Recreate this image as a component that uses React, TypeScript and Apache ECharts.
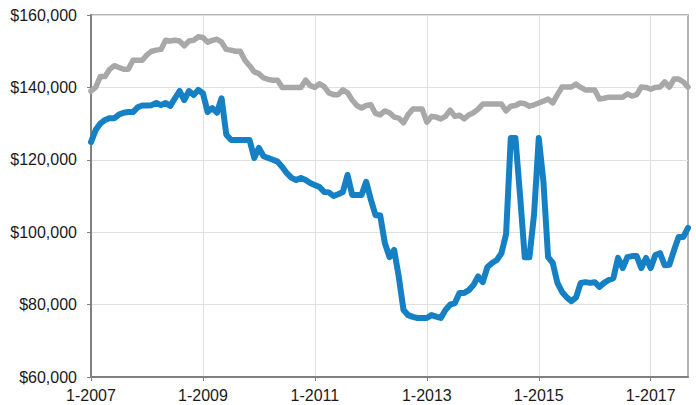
import React, { useEffect, useRef } from "react";
import * as echarts from "echarts";

const startYear = 2007;
const monthCount = 129; // Jan 2007 – Sep 2017
const categories: string[] = Array.from({ length: monthCount }, (_, i) => `${(i % 12) + 1}-${startYear + Math.floor(i / 12)}`);

const graySeries: number[] = [
  139000, 140000, 143000, 143000, 145000, 146000, 145500, 145000, 145000, 147500,
  147500, 147500, 149000, 150000, 150300, 150500, 153000, 152800, 153000, 152800,
  151500, 152800, 153000, 154000, 153800, 152500, 153000, 153300, 152500, 150500,
  150300, 150000, 150000, 147500, 146000, 144300, 143800, 142600, 142200, 142000,
  142000, 140000, 140000, 140000, 140000, 140000, 142000, 140500, 140000, 141000,
  140200, 138500, 138000, 138000, 139300, 138500, 136500, 135000, 134300, 135000,
  135200, 132800, 132400, 133500, 133000, 131800, 131500, 130200, 132500, 134000,
  134000, 134000, 130400, 132000, 131800, 131300, 132000, 133700, 132000, 132300,
  131300, 132400, 133000, 134000, 135400, 135400, 135400, 135400, 135400, 133500,
  134800, 135000, 135700, 135500, 134800, 135200, 135700, 136200, 136800, 135700,
  138000, 140100, 140100, 140100, 140900, 140000, 139300, 139300, 139300, 136800,
  137000, 137300, 137300, 137300, 137300, 138200, 137600, 138000, 140100, 140000,
  139500, 140000, 140100, 141500, 140100, 142300, 142300, 141500, 140100,
];

const blueSeries: number[] = [
  124900, 128200, 130000, 131000, 131500, 131500, 132500, 133000, 133200, 133200,
  134500, 135000, 135000, 135100, 135700, 135100, 135700, 134900, 137000, 139000,
  136500, 139000, 137900, 139300, 138400, 133200, 134300, 133000, 137000, 127000,
  125500, 125500, 125500, 125500, 125500, 120500, 123300, 121000, 120500, 120000,
  119500, 118000, 116300, 115000, 114400, 115000, 114400, 113600, 113000, 112500,
  111100, 111000, 110000, 110500, 111100, 115800, 110300, 110300, 110300, 113900,
  109000, 104700, 104700, 97000, 93100, 95100, 87600, 78500, 77100, 76600,
  76300, 76300, 76300, 77100, 76700, 76300, 78500, 80000, 80400, 83200,
  83200, 84000, 85400, 87800, 86200, 90400, 91500, 92300, 94200, 99500,
  126000, 126000, 110000, 93100, 93100, 105000, 126000, 114000, 93100, 91500,
  86000, 83500, 82000, 80900, 82000, 86000, 86200, 86000, 86200, 84900,
  86000, 86800, 87300, 92900, 90100, 93100, 93400, 93400, 90100, 92900,
  90100, 93700, 94200, 90900, 91000, 95000, 98700, 98700, 101200,
];

const yMin = 60000;
const yMax = 160000;
const yStep = 20000;

const fmtMoney = (v: number) => "$" + String(v).replace(/\B(?=(\d{3})+(?!\d))/g, ",");

export default function App() {
  const ref = useRef<HTMLDivElement>(null);
  useEffect(() => {
    if (!ref.current) return;
    const chart = echarts.init(ref.current, undefined, { renderer: "svg" });
    const labelFont = {
      fontFamily: "'Liberation Sans', Arial, Helvetica, sans-serif",
      fontSize: 16,
      color: "#1a1a1a",
    };
    chart.setOption({
      animation: false,
      backgroundColor: "#ffffff",
      grid: {
        left: 91,
        right: 8,
        top: 15,
        bottom: 28,
        show: true,
        borderColor: "#9a9a9a",
        borderWidth: 1.5,
      },
      xAxis: {
        type: "category",
        data: categories,
        boundaryGap: false,
        axisLine: { show: true, lineStyle: { color: "#808080", width: 2 } },
        axisTick: { show: true, interval: 23, length: 4, lineStyle: { color: "#808080", width: 1 } },
        axisLabel: { interval: 23, margin: 10, ...labelFont },
        splitLine: { show: true, interval: 23, lineStyle: { color: "#e0e0e0", width: 1 } },
      },
      yAxis: {
        type: "value",
        min: yMin,
        max: yMax,
        interval: yStep,
        axisLine: { show: true, lineStyle: { color: "#808080", width: 2 } },
        axisTick: { show: true, length: 4, lineStyle: { color: "#808080", width: 1 } },
        axisLabel: { margin: 14, formatter: (v: number) => fmtMoney(v), ...labelFont },
        splitLine: { show: true, lineStyle: { color: "#e0e0e0", width: 1 } },
      },
      series: [
        {
          name: "Gray",
          type: "line",
          data: graySeries,
          symbol: "none",
          lineStyle: { color: "#a8a8a8", width: 5.5, join: "round", cap: "round" },
          z: 2,
        },
        {
          name: "Blue",
          type: "line",
          data: blueSeries,
          symbol: "none",
          lineStyle: { color: "#1580c3", width: 6, join: "round", cap: "round" },
          z: 3,
        },
      ],
    });
    return () => chart.dispose();
  }, []);
  return (
    <div
      ref={ref}
      style={{ position: "fixed", left: 0, top: 0, width: 696, height: 405 }}
    />
  );
}
